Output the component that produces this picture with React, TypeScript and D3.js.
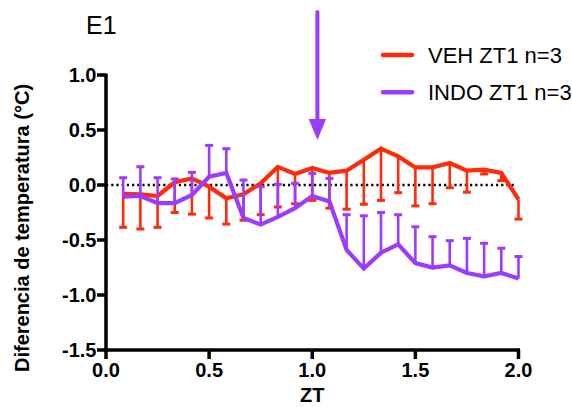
import React from "react";
import * as d3 from "d3";

const zt: number[] = Array.from({ length: 24 }, (_, i) => (i + 1) / 12);

const vehMean: number[] = [-0.08, -0.085, -0.10, 0.025, 0.06, -0.015, -0.12, -0.085, 0.015, 0.165, 0.10, 0.155, 0.11, 0.13, 0.23, 0.33, 0.26, 0.16, 0.16, 0.20, 0.13, 0.14, 0.11, -0.13];
const vehSem: number[] = [0.305, 0.315, 0.285, 0.275, 0.325, 0.285, 0.235, 0.235, 0.285, 0.365, 0.27, 0.295, 0.32, 0.35, 0.405, 0.47, 0.33, 0.35, 0.33, 0.225, 0.195, 0.04, 0.07, 0.18];

const indoMean: number[] = [-0.105, -0.10, -0.165, -0.165, -0.09, 0.075, 0.11, -0.30, -0.36, -0.29, -0.21, -0.10, -0.15, -0.59, -0.76, -0.615, -0.54, -0.71, -0.75, -0.73, -0.80, -0.83, -0.80, -0.85];
const indoSem: number[] = [0.171, 0.266, 0.231, 0.22, 0.205, 0.285, 0.22, 0.345, 0.345, 0.296, 0.225, 0.206, 0.21, 0.32, 0.48, 0.365, 0.27, 0.33, 0.28, 0.224, 0.315, 0.30, 0.225, 0.20];

const xTicks: number[] = [0, 0.5, 1.0, 1.5, 2.0];
const yTicks: number[] = [1.0, 0.5, 0.0, -0.5, -1.0, -1.5];
const seriesNames: string[] = ["VEH ZT1 n=3", "INDO ZT1 n=3"];
const arrowZT = 1.025;

const RED = "#FF2A0A";
const PURPLE = "#9B3BFF";
const FONT = "'Liberation Sans', Arial, Helvetica, sans-serif";

export default function App() {
  const x = d3.scaleLinear().domain([0, 2]).range([106, 518.5]);
  const y = d3.scaleLinear().domain([-1.5, 1.0]).range([350, 75]);
  const line = d3
    .line<number>()
    .x((_, i) => x(zt[i]))
    .y((d) => y(d));

  const capW = 4;

  const series = [
    { mean: vehMean, sem: vehSem, color: RED, dir: -1 },
    { mean: indoMean, sem: indoSem, color: PURPLE, dir: 1 },
  ];

  return (
    <svg
      width={572}
      height={407}
      style={{ position: "absolute", left: 0, top: 0, background: "#fff" }}
      fontFamily={FONT}
    >
      {/* title */}
      <text x={86} y={34} fontSize={25}>E1</text>

      {/* zero dotted line */}
      <line x1={x(0)} x2={x(2) - 2} y1={y(0)} y2={y(0)} stroke="#000" strokeWidth={2.5} strokeDasharray="2.2,3" />

      {/* series */}
      {series.map((s, si) => (
        <g key={si}>
          {s.mean.map((m, i) => {
            const end = m + s.dir * s.sem[i];
            const cx = x(zt[i]);
            return (
              <g key={i}>
                <line x1={cx} x2={cx} y1={y(m)} y2={y(end)} stroke={s.color} strokeWidth={2.6} />
                <line x1={cx - capW} x2={cx + capW} y1={y(end)} y2={y(end)} stroke={s.color} strokeWidth={3} />
              </g>
            );
          })}
          <path d={line(s.mean) || ""} fill="none" stroke={s.color} strokeWidth={4.2} strokeLinejoin="miter" />
        </g>
      ))}

      {/* axes */}
      <line x1={x(0)} x2={x(0)} y1={y(1.0) - 1.5} y2={y(-1.5) + 1.5} stroke="#000" strokeWidth={3.5} />
      <line x1={x(0) - 1.5} x2={x(2) + 1.5} y1={y(-1.5)} y2={y(-1.5)} stroke="#000" strokeWidth={3.5} />
      {yTicks.map((t) => (
        <g key={"y" + t}>
          <line x1={x(0) - 9} x2={x(0)} y1={y(t)} y2={y(t)} stroke="#000" strokeWidth={3.5} />
          <text x={x(0) - 9.5} y={y(t) + 7} fontSize={20} fontWeight="bold" textAnchor="end">
            {t.toFixed(1)}
          </text>
        </g>
      ))}
      {xTicks.map((t) => (
        <g key={"x" + t}>
          <line x1={x(t)} x2={x(t)} y1={y(-1.5)} y2={y(-1.5) + 9} stroke="#000" strokeWidth={3.5} />
          <text x={x(t)} y={377} fontSize={20} fontWeight="bold" textAnchor="middle">
            {t.toFixed(1)}
          </text>
        </g>
      ))}
      <text x={x(1)} y={402} fontSize={20} fontWeight="bold" textAnchor="middle">ZT</text>
      <text
        transform={`translate(29, ${228}) rotate(-90)`}
        fontSize={20}
        fontWeight="bold"
        textAnchor="middle"
      >
        Diferencia de temperatura (°C)
      </text>

      {/* arrow */}
      <line x1={x(arrowZT)} x2={x(arrowZT)} y1={12} y2={121} stroke={PURPLE} strokeWidth={4} strokeLinecap="round" />
      <path
        d={`M${x(arrowZT) - 8.7},119 L${x(arrowZT) + 8.7},119 L${x(arrowZT)},140 Z`}
        fill={PURPLE}
      />

      {/* legend */}
      {seriesNames.map((n, i) => (
        <g key={n}>
          <line x1={383} x2={412} y1={55 + i * 37.3} y2={55 + i * 37.3} stroke={i === 0 ? RED : PURPLE} strokeWidth={4.5} strokeLinecap="round" />
          <text x={428} y={62.5 + i * 37.3} fontSize={22}>{n}</text>
        </g>
      ))}
    </svg>
  );
}
